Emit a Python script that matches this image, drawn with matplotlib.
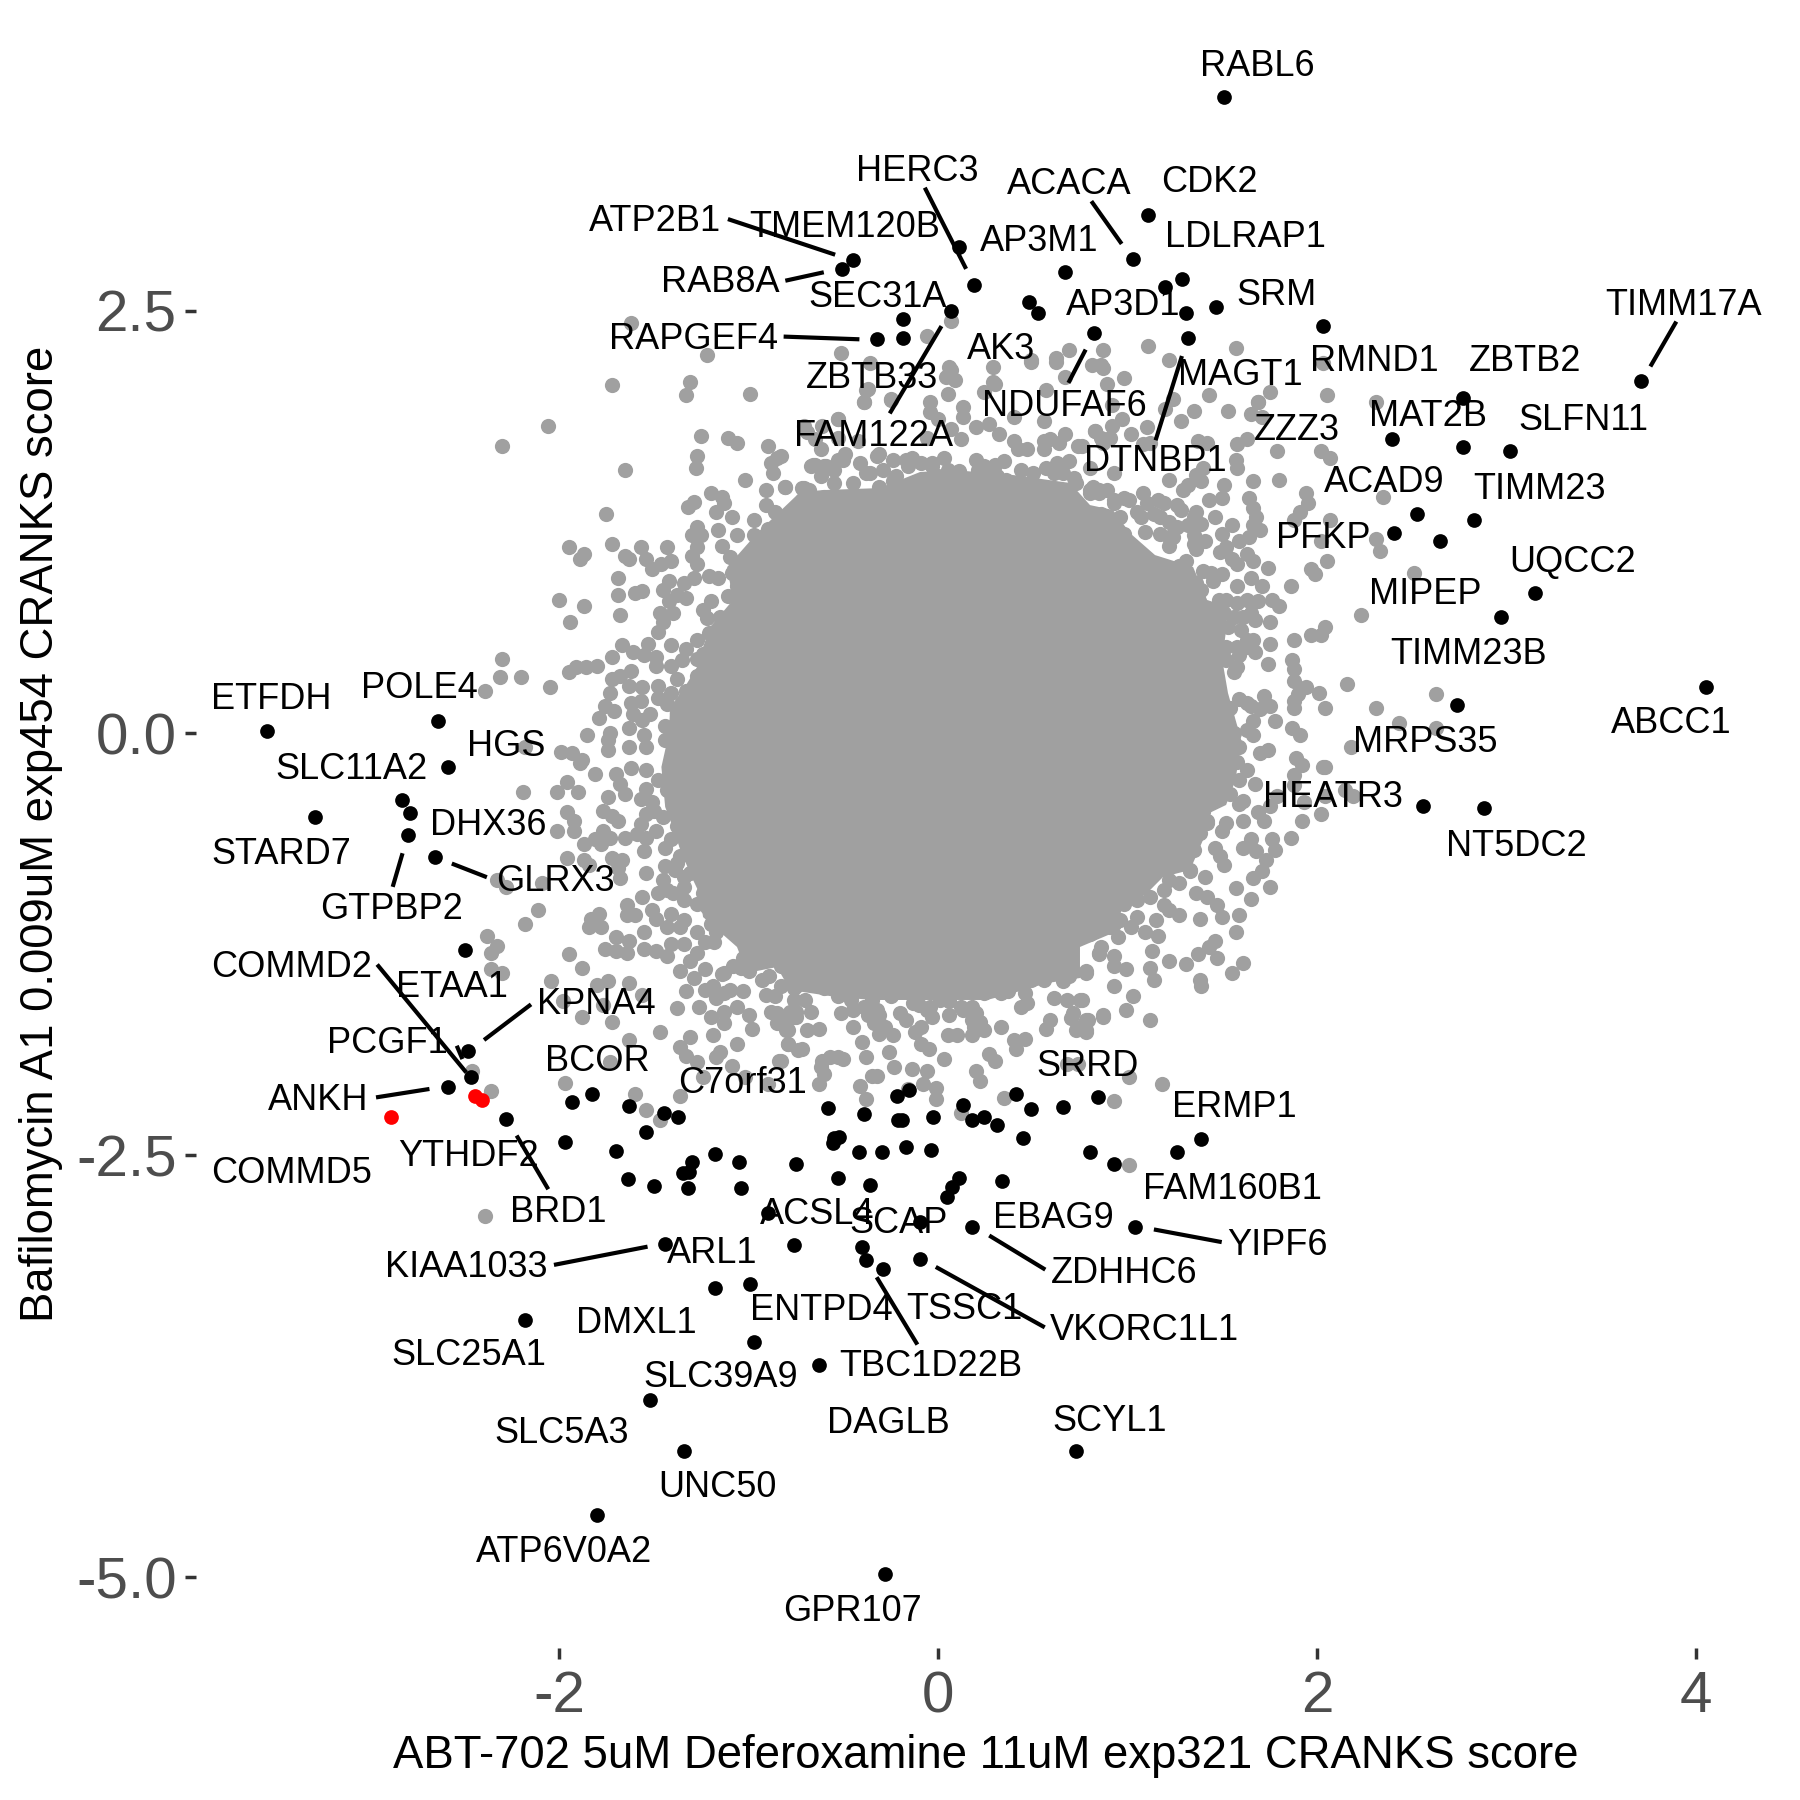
"""Scatter of two CRANKS score screens with the hit genes labelled."""

import matplotlib

matplotlib.use("Agg")
import matplotlib.pyplot as plt

plt.rcParams["font.family"] = ["Liberation Sans", "DejaVu Sans"]

GREY = "#A0A0A0"

# The middle of the cloud is too overplotted to read single points, so only its outline is kept.
core_x = [-.728, -.607, -.306, -.095, .079, .396, .697, .802, .923, 1.013, 1.145, 1.346, 1.42, 1.50, 1.52,
          1.50, 1.53, 1.60, 1.57, 1.52, 1.409, 1.398, 1.33, 1.187, 1.103, .976, .923, .749, .749, .575,
          .396, .259, .063, -.095, -.343, -.533, -.781, -.85, -1.008, -1.061, -1.24, -1.26, -1.30, -1.36,
          -1.40, -1.44, -1.46, -1.42, -1.414, -1.346, -1.272, -1.24, -1.203, -1.082, -1.113, -.955]
core_y = [1.427, 1.439, 1.451, 1.546, 1.558, 1.528, 1.481, 1.35, 1.321, 1.184, 1.054, .983, .788, .758, .61,
          .432, .237, -.041, -.278, -.426, -.486, -.634, -.811, -.853, -.948, -1.03, -1.184, -1.267, -1.451, -1.481,
          -1.54, -1.581, -1.581, -1.581, -1.581, -1.564, -1.522, -1.386, -1.421, -1.267, -1.09, -.948, -.853, -.693,
          -.557, -.438, -.201, 0, .154, .255, .391, .509, .628, .788, .983, 1.184]

# Upper left of the cloud.
grey_upper_left = [
    (-2.30, 1.70), (-2.06, 1.82), (-1.65, 1.56), (-1.25, 1.76), (-1.11, 1.75), (-1.06, 1.72), (-.90, 1.70),
    (-1.27, 1.64), (-1.28, 1.57), (-.85, 1.63), (-.88, 1.60), (-.87, 1.54), (-1.02, 1.50), (-.81, 1.46),
    (-.91, 1.44), (-1.20, 1.42), (-1.14, 1.40), (-1.29, 1.37), (-1.32, 1.34), (-1.13, 1.36), (-.91, 1.35),
    (-.86, 1.31), (-1.75, 1.30), (-1.17, 1.31), (-1.09, 1.28), (-.97, 1.26), (-1.16, 1.20), (-1.27, 1.22),
    (-1.30, 1.17), (-1.25, 1.17), (-1.06, 1.17), (-.97, 1.17), (-.90, 1.21), (-.83, 1.21), (-1.72, 1.12),
    (-1.95, 1.10), (-1.87, 1.06), (-1.89, 1.03), (-1.57, 1.10), (-1.43, 1.10), (-1.65, 1.05), (-1.63, 1.03),
    (-1.54, 1.03), (-1.41, 1.02), (-1.46, 1.00), (-1.51, .97), (-1.27, 1.10), (-1.30, 1.05), (-1.27, 1.00),
    (-1.14, 1.11), (-1.10, 1.04), (-1.03, .98), (-1.09, .95), (-1.21, .93), (-1.29, .92), (-1.34, .89),
    (-1.16, .92), (-1.69, .92), (-1.42, .90), (-1.45, .85), (-1.69, .82), (-1.60, .83), (-1.56, .84),
    (-1.38, .82), (-1.33, .80), (-1.42, .78), (-2.00, .79), (-1.87, .75), (-1.40, .71), (-1.47, .71),
    (-1.68, .70), (-1.94, .66), (-1.45, .66), (-1.20, .78), (-1.24, .73), (-1.22, .68), (-1.15, .69),
    (-1.48, .60), (-1.27, .55), (-1.21, .59), (-1.14, .60), (-1.67, .52), (-1.53, .53), (-1.41, .52),
    (-1.33, .50), (-1.72, .45), (-1.61, .48), (-1.55, .46), (-1.49, .45), (-2.30, .44), (-1.80, .40),
    (-1.86, .39), (-1.91, .39), (-1.95, .36), (-1.49, .40), (-1.41, .40), (-1.35, .43), (-1.27, .44),
    (-1.62, .37), (-1.68, .34), (-1.72, .32), (-1.38, .32), (-1.27, .34), (-2.31, .33), (-2.20, .33),
    (-2.05, .27), (-2.39, .25), (-1.73, .24), (-1.63, .28), (-1.56, .27), (-1.48, .28), (-1.41, .24),
    (-1.33, .25), (-1.76, .16), (-1.71, .13), (-1.79, .09), (-1.62, .18), (-1.57, .19), (-1.43, .17),
    (-1.48, .21), (-1.34, .16), (-1.61, .11), (-1.52, .11), (-1.56, .08), (-1.85, -.01), (-1.73, 0),
    (-1.63, .03), (-1.55, -.01), (-1.44, .04), (-1.38, .08), (-1.44, -.04), (-1.33, -.02), (-1.74, -.04),
    (-1.74, -.10), (-1.63, -.08), (-1.54, -.08), (-2.18, -.08), (-1.99, -.11), (-1.93, -.12), (-1.88, -.16),
    (-1.62, 2.43), (-1.22, 2.24), (-1.72, 2.06), (-1.31, 2.08), (-1.33, 2.00), (-.99, 2.01), (-.51, 2.25),
    (-.36, 2.19), (-.38, 2.03), (-.39, 1.96), (-.25, 1.97), (-.53, 1.86), (-.69, 1.78), (-.71, 1.45),
    (-.65, 1.59), (-.50, 1.62), (-.32, 1.64),
]

# Lower left of the cloud.
grey_lower_left = [
    (-1.89, -.18), (-1.81, -.24), (-1.70, -.24), (-1.62, -.21), (-1.96, -.29), (-2.19, -.35), (-2.01, -.35),
    (-1.90, -.35), (-1.68, -.30), (-1.65, -.36), (-1.54, -.33), (-1.57, -.39), (-1.74, -.38), (-1.77, -.46),
    (-1.51, -.41), (-1.96, -.47), (-1.92, -.52), (-1.72, -.49), (-1.69, -.52), (-1.54, -.48), (-1.92, -.58),
    (-2.01, -.58), (-1.57, -.54), (-1.49, -.58), (-1.77, -.58), (-1.81, -.63), (-1.87, -.66), (-1.73, -.62),
    (-1.65, -.62), (-1.59, -.60), (-1.54, -.62), (-1.78, -.66), (-1.44, -.68), (-1.55, -.70), (-1.96, -.74),
    (-1.87, -.75), (-1.72, -.74), (-1.67, -.75), (-1.84, -.78), (-1.69, -.80), (-1.38, -.77), (-1.44, -.79),
    (-1.54, -.83), (-1.68, -.86), (-2.33, -.87), (-2.28, -.91), (-2.09, -.89), (-1.45, -.87), (-1.34, -.85),
    (-1.56, -.97), (-1.48, -.95), (-1.64, -1.02), (-1.40, -.95), (-1.34, -.99), (-1.24, -.95), (-2.11, -1.05),
    (-1.60, -1.08), (-1.64, -1.08), (-1.51, -1.05), (-1.49, -1.10), (-1.41, -1.07), (-1.34, -1.11),
    (-1.79, -1.07), (-1.83, -1.10), (-1.78, -1.15), (-1.84, -1.15), (-2.18, -1.13), (-1.55, -1.18),
    (-1.43, -1.15), (-1.36, -1.15), (-1.27, -1.18), (-1.20, -1.13), (-1.17, -1.18), (-2.38, -1.20),
    (-1.70, -1.21), (-1.63, -1.23), (-2.33, -1.26), (-2.36, -1.30), (-1.76, -1.28), (-1.70, -1.29),
    (-1.64, -1.30), (-1.55, -1.28), (-1.49, -1.29), (-1.43, -1.32), (-1.41, -1.25), (-1.34, -1.25),
    (-1.23, -1.24), (-1.18, -1.24), (-1.03, -1.18), (-.97, -1.25), (-.91, -1.29), (-1.27, -1.30),
    (-1.31, -1.35), (-1.95, -1.31), (-1.03, -1.33), (-1.04, -1.39), (-1.88, -1.39), (-1.36, -1.41),
    (-1.23, -1.40), (-2.36, -1.40), (-2.30, -1.42), (-1.29, -1.45), (-1.14, -1.43), (-1.00, -1.41),
    (-.93, -1.46), (-2.04, -1.47), (-1.80, -1.49), (-1.74, -1.47), (-1.63, -1.48), (-1.19, -1.50),
    (-1.33, -1.53), (-1.10, -1.52), (-1.03, -1.53), (-.91, -1.55), (-.86, -1.56), (-.76, -1.51),
    (-1.56, -1.55), (-1.17, -1.57), (-1.26, -1.62), (-1.38, -1.63), (-1.06, -1.62), (-1.13, -1.65),
    (-.88, -1.65), (-.78, -1.65), (-1.20, -1.68), (-1.00, -1.67), (-1.88, -1.68), (-1.72, -1.71),
    (-1.98, -1.59), (-1.77, -1.61), (-1.13, -1.72), (-.85, -1.72), (-.80, -1.76), (-.98, -1.75),
    (-1.47, -1.77), (-1.19, -1.79), (-1.31, -1.80), (-1.63, -1.82), (-.79, -1.84), (-1.06, -1.84),
    (-1.36, -1.86), (-1.33, -1.91), (-1.15, -1.89), (-1.17, -1.92), (-.74, -1.88), (-1.27, -1.95),
    (-.84, -1.94), (-1.09, -1.97), (-1.73, -1.95), (-1.24, -2.04), (-1.02, -2.04), (-.90, -2.08),
    (-1.97, -2.07), (-2.36, -2.12), (-1.60, -2.14), (-1.36, -2.15), (-1.54, -2.23), (-2.46, -2.00),
    (-2.39, -2.86), (-1.47, -2.29),
]

# Below the cloud.
grey_bottom = [
    (-.75, -1.50), (-.70, -1.58), (-.60, -1.51), (-.53, -1.56), (-.44, -1.53), (-.35, -1.58), (-.25, -1.56),
    (-.16, -1.51), (-.09, -1.54), (.03, -1.52), (.10, -1.50), (.26, -1.53), (.37, -1.53), (.49, -1.46),
    (.66, -1.47), (.69, -1.44), (.78, -1.42), (.85, -1.31), (.46, -1.54), (.61, -1.57), (.68, -1.58),
    (.75, -1.58), (.44, -1.62), (.47, -1.60), (-.10, -1.61), (-.04, -1.62), (.06, -1.59), (.13, -1.64),
    (.18, -1.62), (-.75, -1.65), (-.67, -1.65), (-.80, -1.68), (-.81, -1.73), (-.51, -1.66), (-.45, -1.64),
    (-.37, -1.67), (-.31, -1.67), (-.20, -1.66), (-.03, -1.68), (.06, -1.67), (.18, -1.70), (.22, -1.71),
    (.70, -1.69), (.79, -1.70), (.87, -1.67), (.59, -1.70), (.57, -1.75), (-.17, -1.70), (-.30, -1.73),
    (-.45, -1.74), (-.69, -1.76), (-.63, -1.75), (-.09, -1.74), (-.12, -1.77), (.24, -1.76), (.33, -1.74),
    (.73, -1.76), (.78, -1.77), (-.31, -1.78), (-.24, -1.79), (.05, -1.79), (.10, -1.79), (.18, -1.79),
    (-.79, -1.84), (-.40, -1.83), (-.09, -1.84), (.46, -1.81), (.40, -1.82), (.41, -1.87), (-.05, -1.87),
    (-.72, -1.87), (-.26, -1.89), (-.38, -1.92), (.27, -1.90), (.30, -1.94), (.03, -1.93), (-.53, -1.92),
    (-.50, -1.93), (-.57, -1.92), (-.61, -1.94), (-.83, -1.94), (-.62, -1.98), (-.23, -1.98), (-.14, -1.99),
    (-.06, -2.00), (.20, -2.00), (-.60, -2.02), (-.32, -2.03), (-.35, -2.03), (.22, -2.06), (-.08, -2.08),
    (-.63, -2.08), (-.41, -2.09), (-.01, -2.10), (-.16, -2.11), (-.01, -2.17), (-.38, -2.17), (.35, -2.16),
    (.12, -2.25), (.68, -1.96), (.74, -1.96), (1.01, -2.56),
]

# Lower right of the cloud.
grey_lower_right = [
    (1.18, -2.08), (1.01, -2.04), (.93, -2.18), (1.12, -1.70), (.87, -1.68), (.99, -1.64), (1.03, -1.56),
    (.78, -1.70), (.78, -1.76), (.76, -1.58), (.93, -1.50), (1.14, -1.46), (1.12, -1.39), (.99, -1.40),
    (.93, -1.38), (.93, -1.32), (.78, -1.41), (1.13, -1.29), (1.22, -1.35), (1.31, -1.37), (1.38, -1.46),
    (1.39, -1.50), (1.55, -1.42), (1.61, -1.36), (1.47, -1.33), (1.37, -1.31), (1.43, -1.27), (1.46, -1.23),
    (1.57, -1.18), (.85, -1.30), (1.16, -1.20), (1.09, -1.18), (.95, -1.21), (1.02, -1.15), (.93, -1.13),
    (1.15, -1.11), (1.27, -1.08), (1.38, -1.10), (1.50, -1.09), (1.59, -1.08), (1.47, -1.02), (1.42, -.97),
    (1.36, -.95), (1.19, -1.02), (1.22, -1.05), (1.65, -.98), (1.57, -.92), (1.27, -.89), (1.41, -.85),
    (1.33, -.82), (1.75, -.91), (1.66, -.86), (1.71, -.82), (1.51, -.78), (1.49, -.73), (1.46, -.68),
    (1.73, -.75), (1.68, -.70), (1.61, -.68), (1.65, -.63), (1.78, -.69), (1.76, -.63), (1.86, -.62),
    (1.50, -.58), (1.52, -.53), (1.42, -.53), (1.61, -.52), (1.72, -.52), (1.92, -.52), (2.02, -.48),
    (1.69, -.47), (1.40, -.46), (1.75, -.43), (1.61, -.40), (1.79, -.37), (1.93, -.41), (2.04, -.37),
    (2.19, -.37), (2.15, -.34), (1.67, -.30), (1.88, -.25), (1.59, -.28), (1.46, -.36), (1.88, -.31),
    (1.92, -.19), (2.04, -.20), (1.63, -.22), (1.58, -.17),
]

# Upper right of the cloud.
grey_upper_right = [
    (1.35, 1.91), (1.53, 1.91), (1.69, 1.96), (1.28, 1.85), (1.65, 1.89), (1.71, 1.87), (1.20, 1.92),
    (.97, 1.86), (.92, 1.82), (.83, 1.79), (1.02, 1.77), (1.10, 1.81), (1.37, 1.73), (1.42, 1.72),
    (1.63, 1.74), (1.58, 1.71), (1.79, 1.67), (2.02, 1.67), (2.07, 1.63), (1.57, 1.62), (1.58, 1.57),
    (.91, 1.75), (.87, 1.72), (1.08, 1.71), (1.12, 1.72), (.76, 1.70), (.80, 1.57), (.93, 1.54),
    (1.40, 1.57), (1.36, 1.53), (1.22, 1.50), (1.39, 1.49), (1.32, 1.47), (1.29, 1.44), (1.66, 1.49),
    (1.80, 1.50), (1.51, 1.47), (.85, 1.44), (.89, 1.44), (.80, 1.42), (1.94, 1.42), (2.35, 1.40),
    (1.43, 1.38), (1.50, 1.39), (1.64, 1.39), (1.95, 1.36), (.98, 1.39), (1.08, 1.42), (.93, 1.36),
    (1.16, 1.38), (1.26, 1.35), (1.66, 1.33), (1.91, 1.31), (1.05, 1.31), (1.36, 1.31), (1.14, 1.30),
    (1.46, 1.28), (1.68, 1.28), (1.88, 1.26), (2.07, 1.26), (1.22, 1.25), (1.39, 1.24), (1.55, 1.23),
    (1.66, 1.23), (1.32, 1.23), (1.70, 1.20), (1.09, 1.19), (1.17, 1.18), (1.50, 1.18), (1.24, 1.16),
    (1.35, 1.17), (1.41, 1.14), (1.64, 1.16), (1.59, 1.14), (2.02, 1.14), (2.31, 1.15), (1.22, 1.11),
    (1.36, 1.09), (1.52, 1.10), (2.33, 1.08), (1.49, 1.07), (1.63, 1.06), (1.55, 1.03), (1.66, 1.02),
    (2.05, 1.02), (1.58, 1.00), (1.31, 1.02), (1.27, .99), (1.74, .98), (1.97, .97), (1.99, .94),
    (1.16, .97), (1.40, .96), (1.44, .95), (1.50, .94), (1.65, .92), (1.29, .93), (1.36, .89), (1.45, .90),
    (1.58, .87), (1.71, .87), (1.86, .87), (1.39, .85), (1.48, .79), (1.58, .77), (1.76, .79), (1.80, .75),
    (1.69, .78), (1.42, .74), (1.51, .71), (1.65, .71), (2.23, .70), (1.75, .66), (1.67, .67), (2.04, .63),
    (1.45, .66), (1.53, .63), (1.60, .61), (1.97, .58), (2.02, .58), (1.88, .55), (1.75, .53), (1.42, .59),
    (1.66, .55), (1.52, .51), (1.59, .46), (1.67, .48), (1.87, .43), (1.74, .41), (1.88, .38), (1.56, .36),
    (1.88, .31), (2.16, .29), (1.94, .27), (1.90, .23), (2.01, .24), (1.88, .19), (1.88, .15), (2.04, .15),
    (2.31, .15), (1.72, .22), (1.63, .18), (1.75, .16), (1.54, .15), (1.78, .07), (1.66, .07), (2.43, .06),
    (1.87, .03), (1.91, -.01), (1.66, -.01), (2.18, -.08), (1.74, -.10), (1.70, -.12), (1.51, -.04),
    (2.63, .23), (2.63, .03), (1.89, -.15), (2.03, -.20), (2.51, .95),
    (.07, 2.44), (-.06, 2.35), (.69, 2.27), (.87, 2.27), (.62, 2.22), (.49, 2.21), (1.11, 2.29), (1.57, 2.28),
    (1.22, 2.21), (.86, 2.18), (.07, 2.15), (.30, 2.07), (.98, 2.10), (2.03, 2.19), (1.75, 2.02), (2.05, 2.00),
    (1.69, 1.96), (1.43, 2.00), (2.31, 1.96), (1.24, 1.98), (.92, 1.94),
]

# Above the cloud.
grey_top = [
    (.06, 2.17), (.09, 2.09), (.04, 2.11), (.29, 2.17), (.29, 2.08), (.24, 2.02), (.05, 2.01), (-.04, 1.96),
    (.13, 1.93), (-.04, 1.90), (.13, 1.87), (0, 1.86), (-.39, 1.96), (-.25, 1.98), (-.37, 2.04), (-.53, 1.86),
    (-.71, 1.82), (-.61, 1.82), (-.65, 1.74), (-.53, 1.75), (-.62, 1.68), (-.42, 1.73), (.20, 1.81), (.07, 1.80),
    (.27, 1.83), (.32, 1.77), (.12, 1.74), (-.06, 1.75), (.40, 1.73), (.56, 1.73), (.67, 1.77), (.59, 1.74),
    (.64, 1.72), (.42, 1.68), (.47, 1.68), (.56, 1.68), (.74, 1.70), (.40, 1.87), (.56, 1.85), (.57, 2.03),
    (.67, 2.11), (.83, 1.79), (.86, 1.75), (.89, 2.07), (.81, 2.18), (.87, 2.16), (.49, 2.20), (.62, 2.20),
    (-.83, 1.64), (-.81, 1.46), (-.67, 1.58), (-.72, 1.45), (-.68, 1.44), (-.60, 1.58), (-.49, 1.65), (-.55, 1.56),
    (-.31, 1.65), (-.24, 1.62), (-.14, 1.63), (-.16, 1.58), (-.22, 1.52), (-.38, 1.54), (.03, 1.63), (-.03, 1.60),
    (.20, 1.62), (.35, 1.61), (.30, 1.59), (.11, 1.55), (-.14, 1.45), (.44, 1.56), (.63, 1.60), (.69, 1.61),
    (.57, 1.57), (.72, 1.51), (.82, 1.46), (.36, 1.50), (.50, 1.54), (.12, 1.46), (-.06, 1.50), (.21, 1.50),
    (.29, 1.52),
]

# The nearly solid band just around the core.
grey_band = [
    (-1.03, .95), (-.96, 1.04), (-.92, .93), (-.97, .87), (-1.06, .87), (-1.11, .81), (-1.08, .71), (-1.13, .59),
    (-1.17, .51), (-1.24, .47), (-1.20, .39), (-1.26, .29), (-1.17, .27), (-1.33, .22), (-1.26, .16), (-1.38, .12),
    (-1.41, 0), (-1.31, .04), (-1.34, -.10), (-1.24, -.08), (-1.27, 0), (-1.19, .10), (-.83, 1.12), (-.89, 1.04),
    (-.82, .98), (-.94, 1.12), (-.66, 1.59), (-.59, 1.58), (-.53, 1.62), (-.41, 1.60), (-.36, 1.54), (-.29, 1.56),
    (-.24, 1.49), (-.31, 1.46), (-.45, 1.48), (-.55, 1.48), (-.62, 1.52), (-.72, 1.38), (-.66, 1.38), (-.76, 1.26),
    (-.81, 1.22), (-.60, 1.40), (-.09, 1.60), (-.17, 1.62), (-.03, 1.58), (.05, 1.56), (.12, 1.50), (0, 1.52),
    (-.13, 1.48), (.24, 1.58), (.21, 1.56), (.31, 1.52), (.40, 1.48), (.50, 1.48), (.61, 1.54), (.66, 1.54),
    (.73, 1.48), (.80, 1.44), (.85, 1.42), (.68, 1.44), (.54, 1.44), (.93, 1.38), (1.01, 1.38), (1.10, 1.36),
    (1.19, 1.36), (1.28, 1.32), (1.35, 1.28), (1.17, 1.28), (1.07, 1.28), (.96, 1.28), (.86, 1.30), (1.05, 1.04),
    (1.03, 1.10), (.98, 1.18), (.89, 1.22), (1.26, 1.22), (1.22, 1.16), (1.35, 1.12), (1.28, .99), (1.24, .91),
    (1.17, .91), (1.08, .95), (1.37, .79), (1.52, .79), (1.63, .79), (1.61, .69), (1.56, .69), (1.49, .63),
    (1.63, .55), (1.58, .51), (1.52, .43), (1.58, .39), (1.63, .51), (1.59, .20), (1.65, .16), (1.70, .14),
    (1.52, .10), (1.63, .02), (1.56, 0), (1.52, -.08), (1.59, -.08), (1.51, -.28), (1.54, -.36), (1.59, -.42),
    (1.40, -.46), (1.42, -.52), (1.38, -.59), (1.35, -.69), (1.30, -.77), (1.33, -.81), (1.22, -.87), (1.19, -.93),
    (1.12, -.97), (1.05, -.99), (.98, -1.01), (1.05, -1.09), (.96, -1.11), (.91, -1.15), (.86, -1.15), (.80, -1.19),
    (.86, -1.27), (-1.54, -.22), (-1.48, -.28), (-1.43, -.34), (-1.50, -.46), (-1.45, -.50), (-1.38, -.55),
    (-1.41, -.63), (-1.33, -.65), (-1.36, -.73), (-1.27, -.71), (-1.39, -.81), (-1.31, -.83), (-1.22, -.89),
    (-1.34, -.91), (-1.43, -.93), (-1.18, -.95), (-1.27, -1.01), (-1.22, -1.03), (-1.13, -1.01), (-1.06, -1.09),
    (-1.01, -1.11), (-.97, -1.19), (-.92, -1.23), (-.89, -1.30), (-.99, -1.29), (-.83, -1.38), (-.89, -1.44),
    (-.83, -1.50), (-.76, -1.58), (-.85, -1.66), (-.80, -1.70), (-.75, -1.68), (-1.13, -1.42), (-1.08, -1.38),
    (-1.23, -1.52), (-1.13, -1.54), (-.76, -1.68), (-.82, -1.72), (-.79, -1.76), (-.46, -1.58), (-.39, -1.62),
    (-.32, -1.64), (-.34, -1.72), (-.28, -1.74), (-.13, -1.60), (-.06, -1.64), (.01, -1.58), (.12, -1.62),
    (.20, -1.66), (.19, -1.74), (.24, -1.54), (.33, -1.54), (.43, -1.48), (.56, -1.46), (.71, -1.66), (.75, -1.74),
]

hits = [
    (-.509, 2.747), (-.448, 2.799), (-.321, 2.332), (-.185, 2.452), (-.185, 2.34), (1.509, 3.767), (1.109, 3.067),
    (.109, 2.879), (.191, 2.652), (1.03, 2.808), (.669, 2.729), (1.288, 2.688), (1.2, 2.64), (.482, 2.55),
    (.53, 2.489), (.07, 2.498), (1.469, 2.523), (1.309, 2.489), (1.321, 2.339), (2.03, 2.41), (.821, 2.369),
    (3.708, 2.083), (2.769, 1.983), (2.396, 1.741), (2.769, 1.693), (3.02, 1.67), (2.53, 1.299), (2.829, 1.26),
    (2.408, 1.183), (2.648, 1.14), (3.148, .827), (2.969, .687), (2.739, .165), (4.05, .272), (2.557, -.435),
    (2.881, -.444), (.409, -2.135), (.491, -2.226), (.66, -2.215), (.842, -2.158), (.13, -2.203), (-.027, -2.276),
    (-.191, -2.294), (.179, -2.294), (.242, -2.276), (.309, -2.323), (.448, -2.396), (-.17, -2.452), (-.039, -2.468),
    (.8, -2.48), (.93, -2.554), (1.26, -2.48), (1.39, -2.404), (.109, -2.634), (.073, -2.69), (.048, -2.747),
    (.339, -2.656), (-.152, -2.112), (-3.541, .014), (-2.639, .073), (-2.587, -.204), (-2.829, -.394), (-2.787, -.476),
    (-3.29, -.496), (-2.799, -.605), (-2.657, -.737), (-2.499, -1.285), (-2.478, -1.886), (-2.466, -2.035),
    (-2.587, -2.094), (-2.281, -2.285), (-1.93, -2.185), (-1.827, -2.135), (-1.63, -2.208), (-1.448, -2.253),
    (-1.372, -2.276), (-1.539, -2.364), (-1.969, -2.423), (-1.699, -2.475), (-1.178, -2.491), (-1.3, -2.543),
    (-1.345, -2.604), (-1.315, -2.6), (-1.048, -2.543), (-.748, -2.552), (-1.636, -2.643), (-1.5, -2.682),
    (-1.318, -2.695), (-1.039, -2.695), (-.527, -2.634), (-.357, -2.679), (-.582, -2.223), (-.391, -2.255),
    (-.215, -2.151), (-.209, -2.294), (-.557, -2.43), (-.551, -2.396), (-.521, -2.391), (-.418, -2.48), (-.297, -2.48),
    (-.897, -2.845), (-1.442, -3.026), (-.76, -3.033), (-.4, -3.044), (-.379, -3.123), (-.291, -3.173), (-1.178, -3.286),
    (-.991, -3.261), (-2.181, -3.475), (-.969, -3.604), (-.627, -3.744), (-1.521, -3.953), (-1.339, -4.252),
    (-1.799, -4.633), (-.279, -4.982), (-.097, -2.894), (.179, -2.924), (1.039, -2.924), (-.097, -3.114), (.73, -4.252),
]

red_x = [-2.887, -2.442, -2.405]
red_y = [-2.276, -2.147, -2.174]

gene_labels = [
    ("RABL6", 1.684, 3.97), ("TMEM120B", -.491, 3.018), ("ATP2B1", -1.496, 3.052), ("HERC3", -.109, 3.351),
    ("ACACA", .691, 3.27), ("CDK2", 1.43, 3.283), ("AP3M1", .533, 2.937), ("LDLRAP1", 1.624, 2.957),
    ("RAB8A", -1.151, 2.692), ("SEC31A", -.321, 2.604), ("AP3D1", .975, 2.556), ("SRM", 1.787, 2.617),
    ("TIMM17A", 3.932, 2.556), ("RAPGEF4", -1.29, 2.352), ("AK3", .333, 2.298), ("RMND1", 2.302, 2.223),
    ("ZBTB2", 3.096, 2.223), ("MAGT1", 1.593, 2.141), ("ZBTB33", -.351, 2.121), ("NDUFAF6", .666, 1.958),
    ("MAT2B", 2.587, 1.896), ("SLFN11", 3.405, 1.876), ("ZZZ3", 1.896, 1.815), ("FAM122A", -.339, 1.781),
    ("DTNBP1", 1.145, 1.631), ("ACAD9", 2.357, 1.509), ("TIMM23", 3.174, 1.468), ("PFKP", 2.035, 1.176),
    ("UQCC2", 3.35, 1.033), ("MIPEP", 2.569, .843), ("TIMM23B", 2.799, .489), ("ETFDH", -3.52, .224),
    ("POLE4", -2.738, .285), ("ABCC1", 3.871, .081), ("HGS", -2.278, -.055), ("MRPS35", 2.569, -.034),
    ("SLC11A2", -3.096, -.19), ("HEATR3", 2.084, -.36), ("DHX36", -2.375, -.524), ("NT5DC2", 3.053, -.646),
    ("STARD7", -3.465, -.694), ("GLRX3", -2.017, -.857), ("GTPBP2", -2.884, -1.02), ("COMMD2", -3.411, -1.367),
    ("ETAA1", -2.563, -1.482), ("KPNA4", -1.805, -1.584), ("PCGF1", -2.908, -1.815), ("BCOR", -1.799, -1.924),
    ("SRRD", .788, -1.951), ("C7orf31", -1.03, -2.053), ("ANKH", -3.271, -2.155), ("ERMP1", 1.563, -2.196),
    ("YTHDF2", -2.478, -2.482), ("COMMD5", -3.411, -2.584), ("FAM160B1", 1.551, -2.679), ("BRD1", -2.005, -2.815),
    ("ACSL4", -.636, -2.828), ("EBAG9", .606, -2.849), ("SCAP", -.206, -2.883), ("YIPF6", 1.793, -3.012),
    ("ARL1", -1.193, -3.059), ("KIAA1033", -2.49, -3.141), ("ZDHHC6", .981, -3.175), ("ENTPD4", -.618, -3.399),
    ("TSSC1", .139, -3.392), ("DMXL1", -1.593, -3.474), ("VKORC1L1", 1.09, -3.515), ("SLC25A1", -2.478, -3.664),
    ("TBC1D22B", -.036, -3.729), ("SLC39A9", -1.145, -3.794), ("SCYL1", .903, -4.052), ("DAGLB", -.26, -4.066),
    ("SLC5A3", -1.987, -4.127), ("UNC50", -1.163, -4.447), ("ATP6V0A2", -1.975, -4.827), ("GPR107", -.454, -5.18),
]

# Leader lines, (x0, y0, x1, y1).
leaders = [
    (-1.109, 3.044, -.543, 2.833), (-.806, 2.679, -.603, 2.729), (-.815, 2.348, -.415, 2.332),
    (.018, 2.41, -.255, 1.893), (-.07, 3.23, .148, 2.749), (.809, 3.15, .969, 2.897), (.779, 2.271, .688, 2.074),
    (1.287, 2.233, 1.148, 1.734), (3.896, 2.437, 3.759, 2.171), (-2.826, -.712, -2.878, -.911),
    (-2.566, -.773, -2.381, -.854), (-2.96, -1.371, -2.49, -2.01), (-2.54, -1.852, -2.51, -1.931),
    (-2.148, -1.607, -2.396, -1.818), (-2.966, -2.158, -2.684, -2.108), (-2.224, -2.384, -2.057, -2.702),
    (-2.027, -3.15, -1.533, -3.042), (-.324, -3.223, -.109, -3.622), (.27, -2.976, .566, -3.178),
    (-.012, -3.162, .563, -3.52), (1.139, -2.94, 1.497, -3.015),
]

x_ticks = [-2, 0, 2, 4]
y_ticks = [2.5, 0.0, -2.5, -5.0]

fig = plt.figure(figsize=(18, 18), dpi=100)
ax = fig.add_axes([196 / 1800, 152 / 1800, 1580 / 1800, 1629 / 1800])

ax.fill(core_x, core_y, color=GREY, linewidth=0, zorder=1)

grey_points = (
    grey_upper_left + grey_lower_left + grey_bottom + grey_lower_right + grey_upper_right + grey_top + grey_band
)
ax.scatter([p[0] for p in grey_points], [p[1] for p in grey_points], s=120, color=GREY, linewidths=0, zorder=1)
ax.scatter([p[0] for p in hits], [p[1] for p in hits], s=112, color="black", linewidths=0, zorder=2)
ax.scatter(red_x, red_y, s=112, color="red", linewidths=0, zorder=2)

for x0, y0, x1, y1 in leaders:
    ax.plot([x0, x1], [y0, y1], color="black", linewidth=3.0, solid_capstyle="butt", zorder=3)

for name, x, y in gene_labels:
    ax.text(x, y, name, fontsize=26, color="black", ha="center", va="center_baseline", zorder=4)

ax.set_xlim(-3.916, 4.422)
ax.set_ylim(-5.419, 4.229)
ax.set_xticks(x_ticks)
ax.set_xticklabels([str(t) for t in x_ticks])
ax.set_yticks(y_ticks)
ax.set_yticklabels([f"{t:.1f}" for t in y_ticks])
ax.tick_params(axis="both", labelsize=42, labelcolor="#4D4D4D", color="#333333", length=8, width=2.5)
ax.tick_params(axis="x", pad=8)
ax.tick_params(axis="y", pad=6)

for spine in ax.spines.values():
    spine.set_visible(False)

ax.set_xlabel("ABT-702 5uM Deferoxamine 11uM exp321 CRANKS score", fontsize=32.8, color="black", labelpad=7)
ax.set_ylabel("Bafilomycin A1 0.009uM exp454 CRANKS score", fontsize=32.8, color="black", labelpad=9)

fig.savefig("out.png", dpi=100)
